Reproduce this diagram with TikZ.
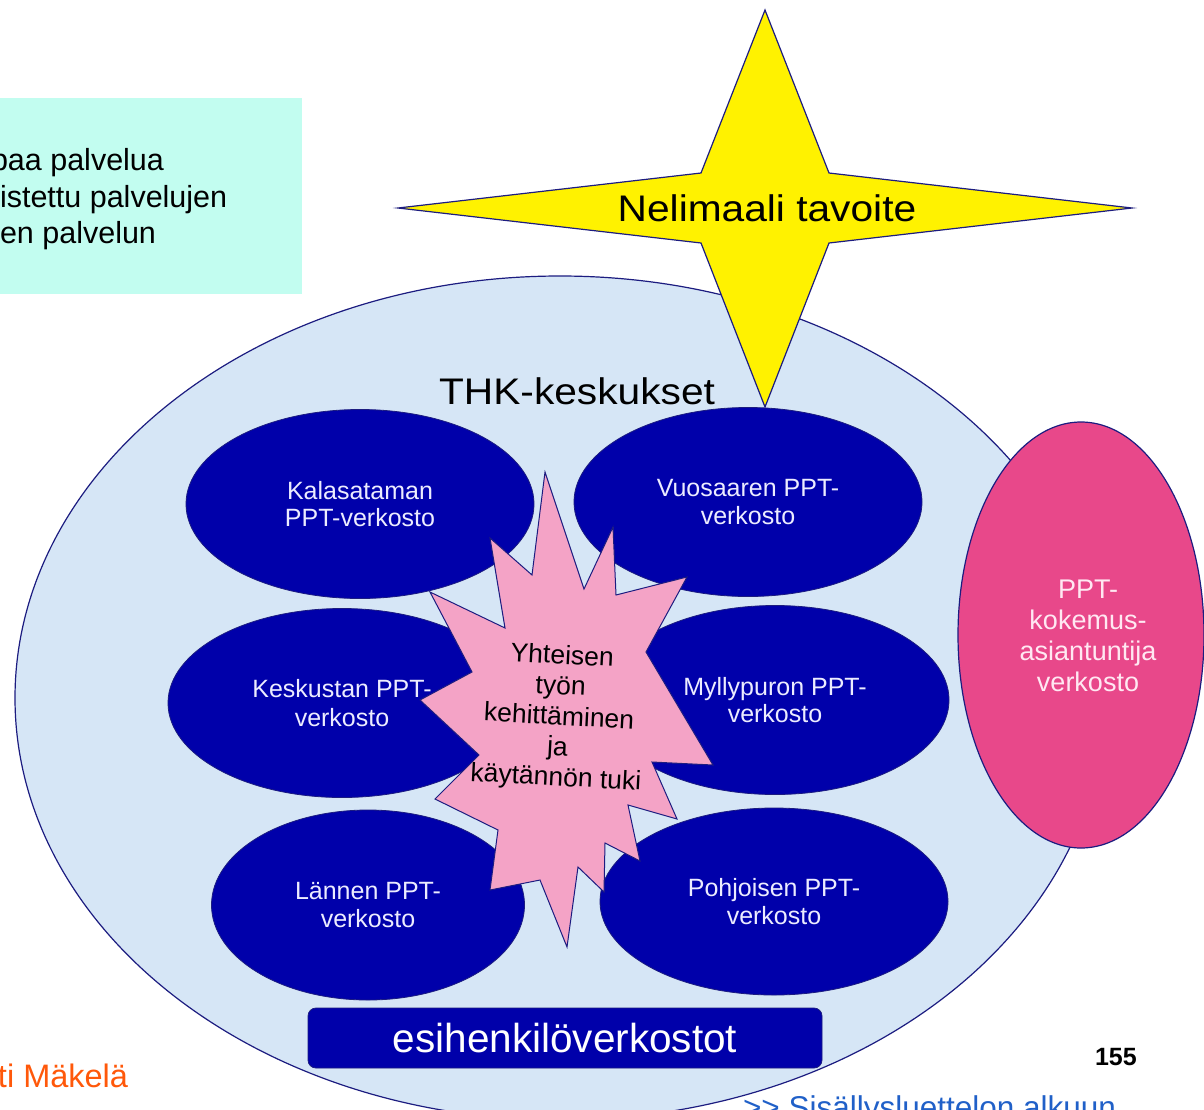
\documentclass[tikz,border=0pt]{standalone}
\usepackage{fontspec}
\usepackage{graphicx}
\setmainfont{Liberation Sans}
\usetikzlibrary{shapes.geometric}
\definecolor{navy}{RGB}{28,28,128}
\definecolor{bigfill}{RGB}{214,230,246}
\definecolor{darkblue}{RGB}{0,0,170}
\definecolor{pinkexp}{RGB}{244,163,198}
\definecolor{magentaell}{RGB}{232,72,138}
\definecolor{cyanbox}{RGB}{194,253,240}
\definecolor{txtlight}{RGB}{236,236,255}
\definecolor{pinktxt}{RGB}{255,232,242}
\definecolor{orangetxt}{RGB}{255,88,10}
\definecolor{linkblue}{RGB}{32,96,200}
\newcommand\setfs[2]{\fontsize{#1}{#2}\selectfont}
\begin{document}
\begin{tikzpicture}[x=1pt,y=-1pt,
  outline/.style={draw=navy, line width=1.2pt},
  netell/.style={ellipse, draw=navy, line width=0.8pt, fill=darkblue, text=txtlight,
    inner sep=0pt, align=center, font=\setfs{25}{27.5},
    minimum width=348pt, minimum height=189pt},
  plain/.style={inner sep=0pt, outer sep=0pt}]
\useasboundingbox (0,0) rectangle (1204,1109);
\clip (0,0) rectangle (1204,1109);
% intro box (cut off on the left)
\node[plain, fill=cyanbox, minimum width=302pt, minimum height=196pt, anchor=north west] (introbox) at (0,98) {};
\node[plain, anchor=base west, font=\setfs{30.5}{36}] (introA) at (-9,170) {paa palvelua};
\node[plain, anchor=base west, font=\setfs{30.5}{36}] (introB) at (0,207) {istettu palvelujen};
\node[plain, anchor=base west, font=\setfs{30.5}{36}] (introC) at (0,243) {en palvelun};
% big ellipse
\node[ellipse, outline, fill=bigfill, minimum width=1090pt, minimum height=844pt, inner sep=0pt] (thk) at (560,698) {};
% four-pointed star
\draw[outline, fill=yellow] (765,10) -- (829,173) -- (1132,208) -- (829,243) -- (765,407)
  -- (701,243) -- (398,208) -- (701,173) -- cycle;
\node[plain, font=\setfs{37}{40}] (goal) at (767,208) {\scalebox{1.1}[1]{Nelimaali tavoite}};
\node[plain, font=\setfs{37}{40}] (thklabel) at (577,391) {\scalebox{1.1}[1]{THK-keskukset}};
% expert ellipse
\node[ellipse, outline, fill=magentaell, inner sep=0pt,
  minimum width=246pt, minimum height=426pt] (expert) at (1081,635) {};
\node[plain, text=pinktxt, align=center, font=\setfs{27}{31}] (expertlabel) at (1088,636)
  {PPT-\\kokemus-\\asiantuntija\\verkosto};
% network ellipses
\node[netell] (kala) at (360,504) {Kalasataman\\PPT-verkosto};
\node[netell] (vuo) at (748,502) {Vuosaaren PPT-\\verkosto};
\node[netell, font=\setfs{25}{29}] (kesk) at (342,703) {Keskustan PPT-\\verkosto};
\node[netell] (myl) at (775,700) {Myllypuron PPT-\\verkosto};
\node[netell, minimum width=313pt, minimum height=190pt] (lan) at (368,905) {Lännen PPT-\\verkosto};
\node[netell, minimum height=187pt] (poh) at (774,901.5) {Pohjoisen PPT-\\verkosto};
% explosion
\draw[outline, line width=1pt, fill=pinkexp]
  (545,472) -- (584,589) -- (613,527) -- (616,595) -- (687,577) -- (646,652)
  -- (713,765) -- (652,762) -- (677,819) -- (628,805) -- (640,861) -- (605,843)
  -- (604,892) -- (578,867) -- (567,947) -- (540,880) -- (490,890) -- (498,830)
  -- (435,799) -- (479,755) -- (420,700) -- (472,672) -- (430,592) -- (505,628)
  -- (490,538) -- (532,575) -- cycle;
\node[plain, align=center, rotate=-3, font=\setfs{26.5}{30.5}] (dev) at (559,718)
  {Yhteisen\\työn\\kehittäminen\\ja\\käytännön tuki};
% leaders box
\node[rectangle, rounded corners=8pt, draw=navy, line width=0.8pt, fill=darkblue, text=white,
  minimum width=514pt, minimum height=60pt, inner sep=0pt, font=\setfs{40.5}{44}] (lead) at (565,1038)
  {esihenkilöverkostot};
% footer texts
\node[plain, anchor=base west, text=orangetxt, font=\setfs{32.5}{34}] (author) at (-2,1087) {ti Mäkelä};
\node[plain, anchor=base west, font=\bfseries\setfs{25}{28}] (page) at (1095,1065) {155};
\node[plain, anchor=base west, text=linkblue, font=\setfs{31.5}{34}] (link) at (743,1118) {{>}{>} Sisällysluettelon alkuun};
\end{tikzpicture}
\end{document}
